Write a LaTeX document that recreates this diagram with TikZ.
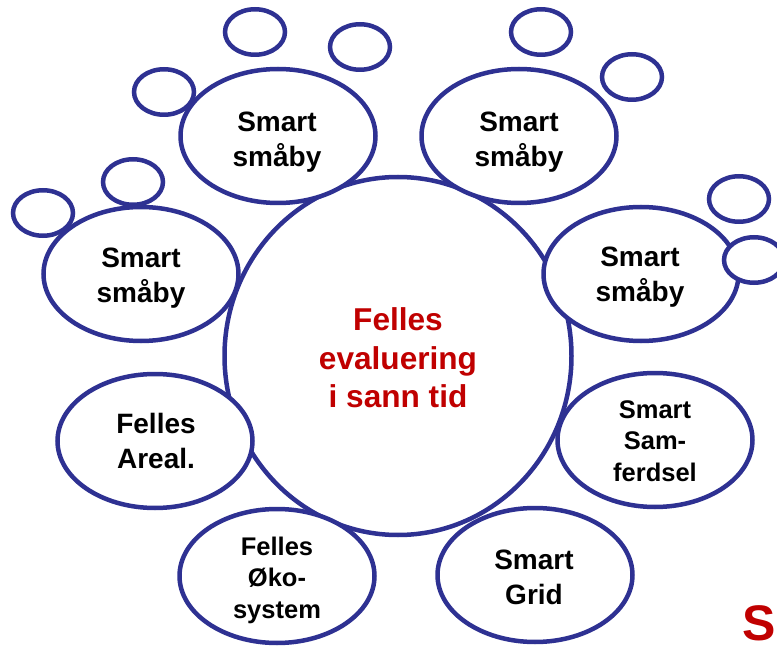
\documentclass[tikz,border=0pt]{standalone}
\usepackage{fontspec}
\setmainfont{Liberation Sans}
\usetikzlibrary{shapes.geometric}
\definecolor{navy}{RGB}{46,49,146}
\definecolor{redtxt}{RGB}{192,0,0}
\begin{document}
\begin{tikzpicture}[x=1pt,y=-1pt,
  shp/.style={ellipse,draw=navy,line width=4.5pt,fill=white,inner sep=0pt},
  bigell/.style={shp,minimum width=195pt,minimum height=134pt},
  bubble/.style={shp,minimum width=60pt,minimum height=45.5pt},
  lbl/.style={align=center,inner sep=0pt,font=\bfseries\fontsize{28}{35}\selectfont},
  lblsm/.style={align=center,inner sep=0pt,font=\bfseries\fontsize{25.5}{31.5}\selectfont},
  lblmid/.style={align=center,inner sep=0pt,text=redtxt,font=\bfseries\fontsize{31.6}{38.5}\selectfont},
]
\useasboundingbox (0,0) rectangle (777,647);
\clip (0,0) rectangle (777,647);
% centre
\node[shp,minimum width=347pt,minimum height=358pt] (mid) at (398,356) {};
% main ellipses
\node[bigell] (tl) at (278,136) {};
\node[bigell] (tr) at (519,136) {};
\node[bigell] (lm) at (141,274) {};
\node[bigell] (rm) at (641,274) {};
\node[bigell] (fa) at (155,441) {};
\node[bigell] (sa) at (655,440) {};
\node[bigell] (eko) at (277,576) {};
\node[bigell] (grid) at (535,575) {};
% small bubbles
\node[bubble] (b1) at (255,32) {};
\node[bubble] (b2) at (360,47) {};
\node[bubble] (b3) at (164,92) {};
\node[bubble] (b4) at (133,182) {};
\node[bubble] (b5) at (43,213) {};
\node[bubble] (b6) at (541,32) {};
\node[bubble] (b7) at (632,77) {};
\node[bubble] (b8) at (739,199) {};
\node[bubble] (b9) at (754,260) {};
% texts
\node[lblmid] (tmid) at (398,358) {Felles\\evaluering\\i sann tid};
\node[lbl] (ttl) at (277,142) {Smart\\småby};
\node[lbl] (ttr) at (519,142) {Smart\\småby};
\node[lbl] (tlm) at (141,278) {Smart\\småby};
\node[lbl] (trm) at (640,277) {Smart\\småby};
\node[lbl] (tfa) at (156,441) {Felles\\Areal.};
\node[lblsm] (tsa) at (655,441) {Smart\\Sam-\\ferdsel};
\node[lblsm] (teko) at (277,580) {Felles\\Øko-\\system};
\node[lbl] (tgrid) at (534,577.5) {Smart\\Grid};
\node[anchor=base west,inner sep=0pt,text=redtxt,font=\bfseries\fontsize{50}{60}\selectfont] (ts) at (742,640) {S};
\end{tikzpicture}
\end{document}
